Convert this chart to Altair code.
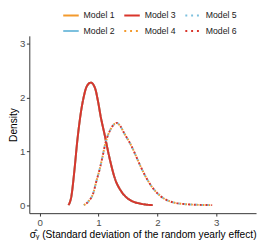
import altair as alt
import pandas as pd

models = ["Model 1", "Model 2", "Model 3", "Model 4", "Model 5", "Model 6"]
colors = ["#F39A2C", "#7CC0DE", "#D9352B", "#F39A2C", "#7CC0DE", "#D9352B"]

# Models 1-3 (solid curves, nearly identical)
x_solid = [0.49, 0.54, 0.59, 0.64, 0.70, 0.75, 0.80, 0.87, 0.94, 0.99, 1.04, 1.10,
           1.18, 1.28, 1.39, 1.50, 1.60, 1.70, 1.80, 1.92]
y_solid = [0.0, 0.17, 0.64, 1.20, 1.72, 2.02, 2.21, 2.28, 2.18, 1.94, 1.63, 1.33,
           0.91, 0.49, 0.25, 0.12, 0.06, 0.03, 0.01, 0.0]

# Models 4-6 (dotted curves, nearly identical)
x_dot = [0.75, 0.83, 0.91, 0.96, 1.02, 1.07, 1.11, 1.16, 1.21, 1.26, 1.31, 1.37,
         1.44, 1.55, 1.63, 1.71, 1.81, 1.92, 2.05, 2.21, 2.45, 2.70, 2.93]
y_dot = [0.0, 0.07, 0.22, 0.43, 0.67, 0.91, 1.12, 1.30, 1.42, 1.50, 1.53, 1.47,
         1.33, 1.12, 0.93, 0.73, 0.51, 0.32, 0.17, 0.07, 0.02, 0.005, 0.0]

x_ticks = [0, 1, 2, 3]
y_ticks = [0, 1, 2, 3]

rows = []
for m in models[:3]:
    for xv, yv in zip(x_solid, y_solid):
        rows.append({"model": m, "x": xv, "y": yv})
for m in models[3:]:
    for xv, yv in zip(x_dot, y_dot):
        rows.append({"model": m, "x": xv, "y": yv})
df = pd.DataFrame(rows)

color_scale = alt.Scale(domain=models, range=colors)
dash_scale = alt.Scale(domain=models,
                       range=[[1, 0], [1, 0], [1, 0], [2, 4], [2, 4], [2, 4]])

offsets = {"Model 1": 0, "Model 2": 0, "Model 3": 0, "Model 4": 0, "Model 5": 1.5, "Model 6": 3}

layers = []
for m in models:
    layers.append(
        alt.Chart(df).transform_filter(alt.datum.model == m).mark_line(
            strokeWidth=2, interpolate="monotone", strokeCap="butt",
            strokeDashOffset=offsets[m]
        ).encode(
            x=alt.X("x:Q", scale=alt.Scale(domain=[-0.175, 3.675], nice=False, zero=False),
                    axis=alt.Axis(values=x_ticks, format="d",
                                  title="σ̂ᵧ (Standard deviation of the random yearly effect)")),
            y=alt.Y("y:Q", scale=alt.Scale(domain=[-0.15, 3.15], nice=False),
                    axis=alt.Axis(values=y_ticks, format="d", title="Density",
                                  labelPadding=1.5, titlePadding=1)),
            color=alt.Color("model:N", scale=color_scale,
                            legend=alt.Legend(title=None, orient="none", legendX=34, legendY=-30,
                                              columns=3, symbolType="stroke", symbolSize=256,
                                              symbolStrokeWidth=2, labelFontSize=9,
                                              labelOffset=4, columnPadding=5, rowPadding=2,
                                              labelColor="#222222")),
            strokeDash=alt.StrokeDash("model:N", scale=dash_scale,
                                      legend=alt.Legend(title=None, orient="none", legendX=34,
                                                        legendY=-30, columns=3)),
        )
    )

chart = alt.layer(*layers).properties(
    width=234, height=183,
    autosize=alt.AutoSizeParams(type="none"),
    padding={"left": 22, "top": 25, "right": 2, "bottom": 26},
).configure_view(stroke=None).configure_axis(
    grid=False, domainColor="#333333", tickColor="#333333", tickSize=3,
    labelFontSize=10, labelColor="#4D4D4D", labelFont="Liberation Sans",
    titleFont="Liberation Sans", titleFontSize=10.5, titleFontWeight="normal",
    titleColor="#000000", labelPadding=2, titlePadding=2,
).configure_legend(labelFont="Liberation Sans")

chart.save("out.html", embed_options={"renderer": "svg", "actions": False})
